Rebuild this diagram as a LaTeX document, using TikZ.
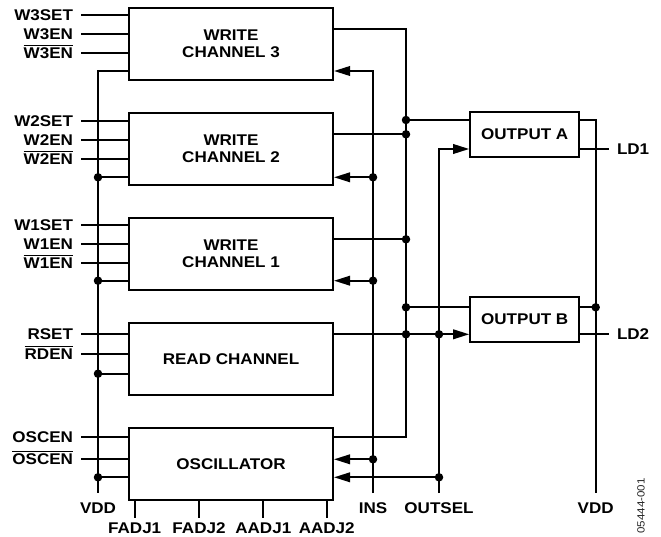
\documentclass[tikz,border=0pt]{standalone}
\usepackage{fontspec}
\setmainfont{Liberation Sans}[FakeStretch=1.1]
\usetikzlibrary{arrows.meta}
\newcommand{\sigfont}{\fontsize{15.5}{16.5}\selectfont\bfseries}
\newcommand{\negsig}[1]{\vbox{\hrule height 1.4pt \kern 1.8pt \hbox{#1}}}
\tikzset{%
  >={Triangle[width=9.5pt,length=16pt]},
  % Specifications for style of nodes:
          block/.style = {rectangle, draw=black, line width=2pt, inner sep=0pt,
                          minimum width=204pt, minimum height=72pt,
                          align=center, font=\sigfont},
         outblk/.style = {block, minimum width=109pt, minimum height=45pt},
         pinlbl/.style = {anchor=east, inner xsep=7pt, inner ysep=0pt,
                          text height=11.1pt, text depth=0pt, font=\sigfont},
         outlbl/.style = {pinlbl, anchor=west},
         botlbl/.style = {pinlbl, anchor=north, inner xsep=0pt, inner ysep=8.4pt},
         adjlbl/.style = {botlbl, inner ysep=3.5pt},
            dot/.style = {circle, fill=black, inner sep=0pt, minimum size=8.5pt}
}

\begin{document}
\begin{tikzpicture}[x=1pt, y=-1pt, line width=2pt, node distance=105pt]
  \useasboundingbox (0,0) rectangle (661,537);

  % Specification of blocks
  \node (w3)   [block] at (231,43.8)   {WRITE\\CHANNEL 3};
  \node (w2)   [block, below of=w3]    {WRITE\\CHANNEL 2};
  \node (w1)   [block, below of=w2]    {WRITE\\CHANNEL 1};
  \node (rd)   [block, below of=w1]    {READ CHANNEL};
  \node (osc)  [block, below of=rd]    {OSCILLATOR};
  \node (outa) [outblk] at (524.7,134.5) {OUTPUT A};
  \node (outb) [outblk, below of=outa, node distance=185pt] {OUTPUT B};

  % Input pins on the left
  \node (w3set) [pinlbl] at (81,14.7)  {W3SET};
  \node (w3en)  [pinlbl] at (81,33.7)  {W3EN};
  \node (w3enb) [pinlbl] at (81,53.3)  {\negsig{W3EN}};
  \node (w2set) [pinlbl] at (81,121)   {W2SET};
  \node (w2en)  [pinlbl] at (81,140)   {W2EN};
  \node (w2enb) [pinlbl] at (81,159)   {\negsig{W2EN}};
  \node (w1set) [pinlbl] at (81,225)   {W1SET};
  \node (w1en)  [pinlbl] at (81,244.3) {W1EN};
  \node (w1enb) [pinlbl] at (81,263.3) {\negsig{W1EN}};
  \node (rset)  [pinlbl] at (81,334.3) {RSET};
  \node (rdenb) [pinlbl] at (81,354.3) {\negsig{RDEN}};
  \node (oscen) [pinlbl] at (81,437.3) {OSCEN};
  \node (oscenb)[pinlbl] at (81,459.3) {\negsig{OSCEN}};

  \draw (w3set.east) -- (w3set -| w3.west)
        (w3en.east)  -- (w3en -| w3.west)
        (w3enb.east) -- (w3enb -| w3.west)
        (w2set.east) -- (w2set -| w2.west)
        (w2en.east)  -- (w2en -| w2.west)
        (w2enb.east) -- (w2enb -| w2.west)
        (w1set.east) -- (w1set -| w1.west)
        (w1en.east)  -- (w1en -| w1.west)
        (w1enb.east) -- (w1enb -| w1.west)
        (rset.east)  -- (rset -| rd.west)
        (rdenb.east) -- (rdenb -| rd.west)
        (oscen.east) -- (oscen -| osc.west)
        (oscenb.east) -- (oscenb -| osc.west);

  % VDD bus on the left
  \coordinate (vddT) at (98,71);
  \node (vdd) [botlbl] at (98,493) {VDD};
  \node (v2) [dot] at (98,177.3) {};
  \node (v1) [dot] at (98,280.7) {};
  \node (vr) [dot] at (98,373.7) {};
  \node (vo) [dot] at (98,477.3) {};
  \draw (vddT -| w3.west) -- (vddT) -- (vdd.north);
  \draw (v2.center) -- (v2 -| w2.west)
        (v1.center) -- (v1 -| w1.west)
        (vr.center) -- (vr -| rd.west)
        (vo.center) -- (vo -| osc.west);

  % output bus of the channels
  \coordinate (busT) at (406,29.3);
  \coordinate (busB) at (406,437);
  \node (ja) [dot] at (406,120) {};
  \node (j2) [dot] at (406,134.3) {};
  \node (j1) [dot] at (406,239.3) {};
  \node (jb) [dot] at (406,307.3) {};
  \node (jr) [dot] at (406,334.3) {};
  \draw (busT -| w3.east) -- (busT) -- (busB) -- (busB -| osc.east);
  \draw (j2.center) -- (j2 -| w2.east)
        (j1.center) -- (j1 -| w1.east)
        (ja.center) -- (ja -| outa.west)
        (jb.center) -- (jb -| outb.west);
  \draw[->] (jr -| rd.east) -- (jr -| outb.west);

  % INS
  \coordinate (insT) at (373,71);
  \node (ins) [botlbl] at (373,493) {INS};
  \node (i2) [dot] at (373,177.3) {};
  \node (i1) [dot] at (373,280.7) {};
  \node (io) [dot] at (373,459.3) {};
  \draw[->] (ins.north) -- (insT) -- (insT -| w3.east);
  \draw[->] (i2.center) -- (i2 -| w2.east);
  \draw[->] (i1.center) -- (i1 -| w1.east);
  \draw[->] (io.center) -- (io -| osc.east);

  % OUTSEL
  \coordinate (selT) at (439,149);
  \node (outsel) [botlbl] at (439,493) {OUTSEL};
  \node (js) [dot] at (439,334.3) {};
  \node (so) [dot] at (439,477.3) {};
  \draw[->] (outsel.north) -- (selT) -- (selT -| outa.west);
  \draw[->] (so.center) -- (so -| osc.east);

  % VDD on the right, laser outputs
  \coordinate (rvT) at (595.7,120);
  \node (vdd2) [botlbl] at (595.7,493) {VDD};
  \node (rv) [dot] at (595.7,307.3) {};
  \draw (rvT -| outa.east) -- (rvT) -- (vdd2.north);
  \draw (rv.center) -- (rv -| outb.east);
  \node (ld1) [outlbl] at (609,149) {LD1};
  \node (ld2) [outlbl] at (609,334.3) {LD2};
  \draw (ld1 -| outa.east) -- (ld1.west)
        (ld2 -| outb.east) -- (ld2.west);

  % adjust pins below the oscillator
  \node (fadj1) [adjlbl] at (134.7,518) {FADJ1};
  \node (fadj2) [adjlbl] at (199,518)   {FADJ2};
  \node (aadj1) [adjlbl] at (263.3,518) {AADJ1};
  \node (aadj2) [adjlbl] at (326.7,518) {AADJ2};
  \draw (fadj1 |- osc.south) -- (fadj1.north)
        (fadj2 |- osc.south) -- (fadj2.north)
        (aadj1 |- osc.south) -- (aadj1.north)
        (aadj2 |- osc.south) -- (aadj2.north);

  \node (figid) [rotate=90, font=\fontsize{10.5}{10.5}\selectfont, text=black!85] at (641,506) {05444-001};
\end{tikzpicture}
\end{document}
